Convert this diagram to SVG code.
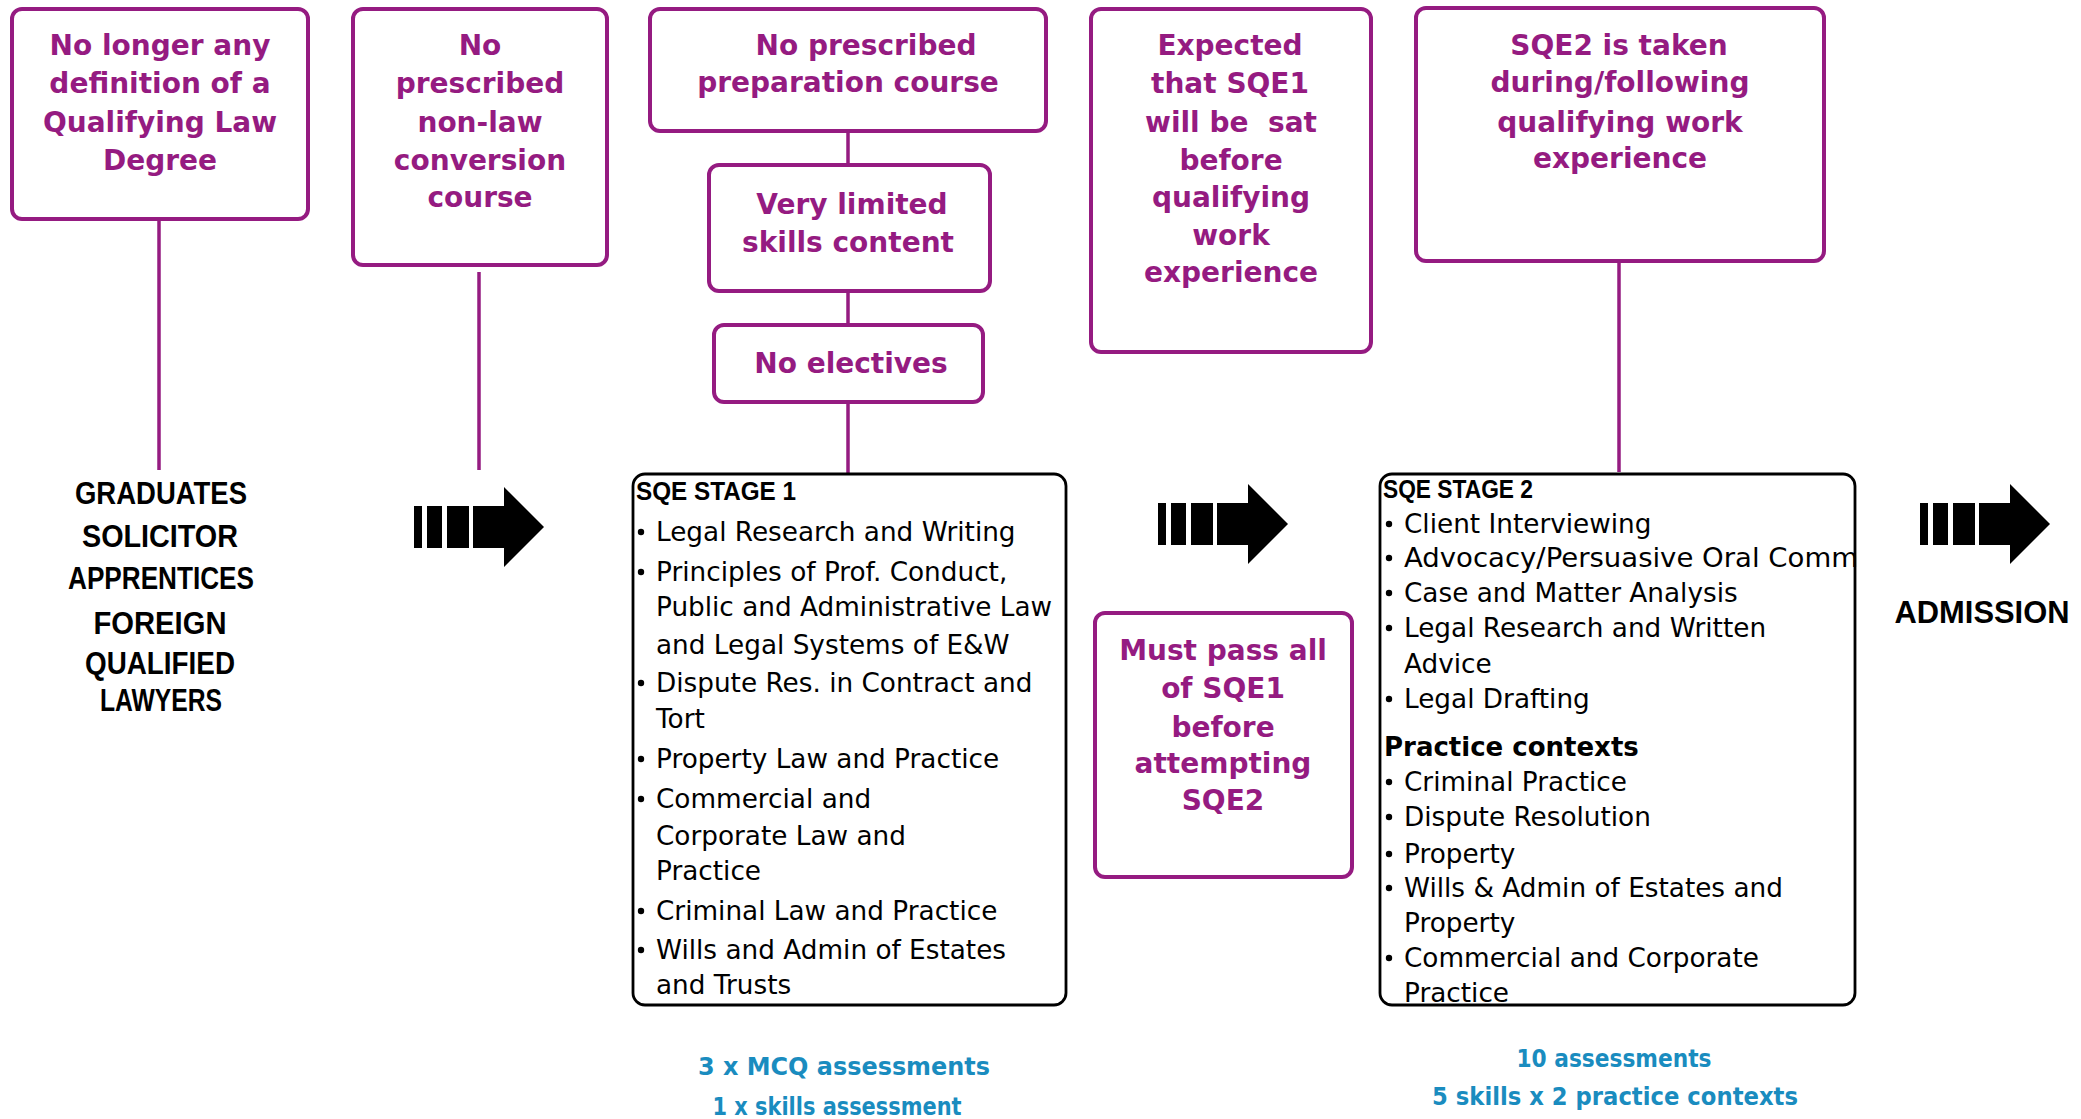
<svg xmlns="http://www.w3.org/2000/svg" width="2081" height="1119" viewBox="0 0 2081 1119">
<style>
.pbox{fill:#fff;stroke:#951b81;stroke-width:4}
.sbox{fill:#fff;stroke:#000;stroke-width:2.8}
.pt{font-family:"DejaVu Sans",sans-serif;font-weight:bold;font-size:28px;fill:#951b81;text-anchor:middle}
.bt{font-family:"Liberation Sans",Arial,sans-serif;font-weight:bold;font-size:31px;fill:#000;text-anchor:middle}
.hd{font-family:"Liberation Sans",Arial,sans-serif;font-weight:bold;font-size:26px;fill:#000}
.li{font-family:"DejaVu Sans",sans-serif;font-size:26.3px;fill:#000}
.lb{font-family:"DejaVu Sans",sans-serif;font-weight:bold;font-size:26px;fill:#000}
.bl{font-family:"DejaVu Sans",sans-serif;font-weight:bold;font-size:25px;fill:#1a8cbf;text-anchor:middle}
.conn{stroke:#951b81;stroke-width:3.5;fill:none}
.bul{fill:#000}
</style>
<defs>
<g id="arrow">
<rect x="0" y="-21" width="8" height="42"/>
<rect x="13" y="-21" width="15" height="42"/>
<rect x="33" y="-21" width="22" height="42"/>
<polygon points="59,-21 90,-21 90,-40 130,0 90,40 90,21 59,21"/>
</g>
</defs>
<rect width="2081" height="1119" fill="#fff"/>

<g id="connectors">
<line class="conn" x1="159" y1="219" x2="159" y2="470"/>
<line class="conn" x1="479" y1="272" x2="479" y2="470"/>
<line class="conn" x1="848" y1="131" x2="848" y2="165"/>
<line class="conn" x1="848" y1="291" x2="848" y2="325"/>
<line class="conn" x1="848" y1="402" x2="848" y2="474"/>
<line class="conn" x1="1619" y1="261" x2="1619" y2="472"/>
</g>

<g id="node-qld">
<rect class="pbox" x="12" y="9" width="296" height="210" rx="10"/>
<text class="pt" x="160" y="55">No longer any</text>
<text class="pt" x="160" y="93">definition of a</text>
<text class="pt" x="160" y="132">Qualifying Law</text>
<text class="pt" x="160" y="170">Degree</text>
</g>

<g id="node-conversion">
<rect class="pbox" x="353" y="9" width="254" height="256" rx="10"/>
<text class="pt" x="480" y="55">No</text>
<text class="pt" x="480" y="93">prescribed</text>
<text class="pt" x="480" y="132">non-law</text>
<text class="pt" x="480" y="170">conversion</text>
<text class="pt" x="480" y="207">course</text>
</g>

<g id="node-prep">
<rect class="pbox" x="650" y="9" width="396" height="122" rx="10"/>
<text class="pt" x="866" y="55">No prescribed</text>
<text class="pt" x="848" y="92">preparation course</text>
</g>

<g id="node-skills">
<rect class="pbox" x="709" y="165" width="281" height="126" rx="10"/>
<text class="pt" x="852" y="214">Very limited</text>
<text class="pt" x="848" y="252">skills content</text>
</g>

<g id="node-electives">
<rect class="pbox" x="714" y="325" width="269" height="77" rx="10"/>
<text class="pt" x="851" y="373">No electives</text>
</g>

<g id="node-expected">
<rect class="pbox" x="1091" y="9" width="280" height="343" rx="10"/>
<text class="pt" x="1230" y="55">Expected</text>
<text class="pt" x="1230" y="93">that SQE1</text>
<text class="pt" x="1231" y="132" xml:space="preserve">will be  sat</text>
<text class="pt" x="1231" y="170">before</text>
<text class="pt" x="1231" y="207">qualifying</text>
<text class="pt" x="1231" y="245">work</text>
<text class="pt" x="1231" y="282">experience</text>
</g>

<g id="node-sqe2-timing">
<rect class="pbox" x="1416" y="8" width="408" height="253" rx="10"/>
<text class="pt" x="1619" y="55">SQE2 is taken</text>
<text class="pt" x="1620" y="92">during/following</text>
<text class="pt" x="1620" y="132">qualifying work</text>
<text class="pt" x="1620" y="168">experience</text>
</g>

<g id="node-entrants">
<text class="bt" x="161" y="504" textLength="172" lengthAdjust="spacingAndGlyphs">GRADUATES</text>
<text class="bt" x="160" y="547" textLength="156" lengthAdjust="spacingAndGlyphs">SOLICITOR</text>
<text class="bt" x="161" y="589" textLength="186" lengthAdjust="spacingAndGlyphs">APPRENTICES</text>
<text class="bt" x="160" y="634" textLength="133" lengthAdjust="spacingAndGlyphs">FOREIGN</text>
<text class="bt" x="160" y="674" textLength="150" lengthAdjust="spacingAndGlyphs">QUALIFIED</text>
<text class="bt" x="161" y="711" textLength="122" lengthAdjust="spacingAndGlyphs">LAWYERS</text>
</g>

<g id="arrow-1"><use href="#arrow" x="414" y="527"/></g>
<g id="arrow-2"><use href="#arrow" x="1158" y="524"/></g>
<g id="arrow-3"><use href="#arrow" x="1920" y="524"/></g>

<g id="node-stage1">
<rect class="sbox" x="633" y="474" width="433" height="531" rx="12"/>
<text class="hd" x="636" y="500" textLength="160" lengthAdjust="spacingAndGlyphs">SQE STAGE 1</text>
<circle class="bul" cx="641" cy="532" r="3.2"/>
<circle class="bul" cx="641" cy="572" r="3.2"/>
<circle class="bul" cx="641" cy="683" r="3.2"/>
<circle class="bul" cx="641" cy="759" r="3.2"/>
<circle class="bul" cx="641" cy="799" r="3.2"/>
<circle class="bul" cx="641" cy="911" r="3.2"/>
<circle class="bul" cx="641" cy="950" r="3.2"/>
<text class="li" x="656" y="541">Legal Research and Writing</text>
<text class="li" x="656" y="581">Principles of Prof. Conduct,</text>
<text class="li" x="656" y="616">Public and Administrative Law</text>
<text class="li" x="656" y="654">and Legal Systems of E&amp;W</text>
<text class="li" x="656" y="692">Dispute Res. in Contract and</text>
<text class="li" x="656" y="728">Tort</text>
<text class="li" x="656" y="768">Property Law and Practice</text>
<text class="li" x="656" y="808">Commercial and</text>
<text class="li" x="656" y="845">Corporate Law and</text>
<text class="li" x="656" y="880">Practice</text>
<text class="li" x="656" y="920">Criminal Law and Practice</text>
<text class="li" x="656" y="959">Wills and Admin of Estates</text>
<text class="li" x="656" y="994">and Trusts</text>
</g>

<g id="node-must-pass">
<rect class="pbox" x="1095" y="613" width="257" height="264" rx="10"/>
<text class="pt" x="1223" y="660">Must pass all</text>
<text class="pt" x="1223" y="698">of SQE1</text>
<text class="pt" x="1223" y="737">before</text>
<text class="pt" x="1223" y="773">attempting</text>
<text class="pt" x="1223" y="810">SQE2</text>
</g>

<g id="node-stage2">
<rect class="sbox" x="1380" y="474" width="475" height="531" rx="12"/>
<text class="hd" x="1383" y="498" textLength="150" lengthAdjust="spacingAndGlyphs">SQE STAGE 2</text>
<circle class="bul" cx="1389" cy="524" r="3.2"/>
<circle class="bul" cx="1389" cy="558" r="3.2"/>
<circle class="bul" cx="1389" cy="593" r="3.2"/>
<circle class="bul" cx="1389" cy="628" r="3.2"/>
<circle class="bul" cx="1389" cy="699" r="3.2"/>
<circle class="bul" cx="1389" cy="782" r="3.2"/>
<circle class="bul" cx="1389" cy="817" r="3.2"/>
<circle class="bul" cx="1389" cy="854" r="3.2"/>
<circle class="bul" cx="1389" cy="888" r="3.2"/>
<circle class="bul" cx="1389" cy="958" r="3.2"/>
<text class="li" x="1404" y="533">Client Interviewing</text>
<text class="li" x="1404" y="567" textLength="454" lengthAdjust="spacingAndGlyphs">Advocacy/Persuasive Oral Comm</text>
<text class="li" x="1404" y="602">Case and Matter Analysis</text>
<text class="li" x="1404" y="637">Legal Research and Written</text>
<text class="li" x="1404" y="673">Advice</text>
<text class="li" x="1404" y="708">Legal Drafting</text>
<text class="lb" x="1384" y="756">Practice contexts</text>
<text class="li" x="1404" y="791">Criminal Practice</text>
<text class="li" x="1404" y="826">Dispute Resolution</text>
<text class="li" x="1404" y="863">Property</text>
<text class="li" x="1404" y="897">Wills &amp; Admin of Estates and</text>
<text class="li" x="1404" y="932">Property</text>
<text class="li" x="1404" y="967">Commercial and Corporate</text>
<text class="li" x="1404" y="1002">Practice</text>
</g>

<g id="node-admission">
<text class="bt" x="1982" y="623" textLength="175" lengthAdjust="spacingAndGlyphs">ADMISSION</text>
</g>

<g id="node-sqe1-assess">
<text class="bl" x="844" y="1075" textLength="292" lengthAdjust="spacingAndGlyphs">3 x MCQ assessments</text>
<text class="bl" x="837" y="1115" textLength="249" lengthAdjust="spacingAndGlyphs">1 x skills assessment</text>
</g>

<g id="node-sqe2-assess">
<text class="bl" x="1614" y="1067" textLength="195" lengthAdjust="spacingAndGlyphs">10 assessments</text>
<text class="bl" x="1615" y="1105" textLength="366" lengthAdjust="spacingAndGlyphs">5 skills x 2 practice contexts</text>
</g>
</svg>
